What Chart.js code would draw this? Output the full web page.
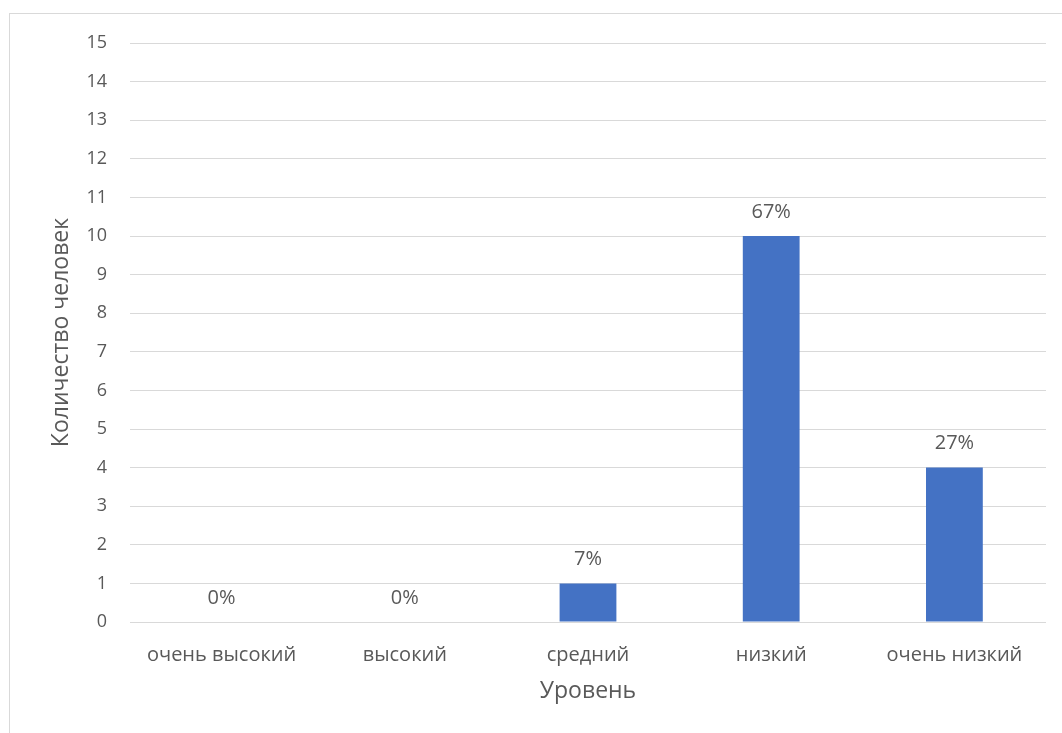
<!DOCTYPE html>
<html lang="ru">
<head>
<meta charset="utf-8">
<title>Уровень</title>
<script src="https://cdn.jsdelivr.net/npm/chart.js@4/dist/chart.umd.min.js"></script>
<style>
    html, body {
        margin: 0;
        padding: 0;
        background: #ffffff;
    }
    .chart-wrap {
        position: relative;
        width: 1062px;
        height: 733px;
        overflow: hidden;
    }
    .chart-frame {
        position: absolute;
        left: 9px;
        top: 13px;
        width: 1100px;
        height: 800px;
        border: 1px solid #d9d9d9;
        box-sizing: border-box;
        pointer-events: none;
    }
</style>
</head>
<body>
<div class="chart-wrap">
    <div class="chart-frame"></div>
    <canvas id="levels"></canvas>
</div>
<script>
// данные диаграммы
const levels = ['очень высокий', 'высокий', 'средний', 'низкий', 'очень низкий'];
const people = [0, 0, 1, 10, 4];
const yMin = 0;
const yMax = 15;
const yStep = 1;

const textColor = '#595959';
const gridColor = '#d9d9d9';
const barColor = '#4472c4';
const fontFamily = '"Open Sans", "Noto Sans", sans-serif';

const total = people.reduce((s, v) => s + v, 0);

// подписи процентов над столбцами
const percentLabels = {
    id: 'percentLabels',
    afterDatasetsDraw(chart) {
        const ctx = chart.ctx;
        const meta = chart.getDatasetMeta(0);
        ctx.save();
        ctx.fillStyle = textColor;
        ctx.font = `20px ${fontFamily}`;
        ctx.textAlign = 'center';
        ctx.textBaseline = 'middle';
        meta.data.forEach((bar, i) => {
            const pct = Math.round(people[i] / total * 100) + '%';
            ctx.fillText(pct, bar.x, bar.y - 24);
        });
        ctx.restore();
    }
};

new Chart(document.getElementById('levels').getContext('2d'), {
    type: 'bar',
    data: {
        labels: levels,
        datasets: [{
            data: people,
            backgroundColor: barColor,
            categoryPercentage: 1,
            barPercentage: 0.31,
        }],
    },
    options: {
        responsive: true,
        maintainAspectRatio: false,
        animation: false,
        layout: {
            padding: { top: 43, right: 16, bottom: 0, left: 0 },
        },
        plugins: {
            legend: { display: false },
            tooltip: { enabled: false },
        },
        scales: {
            x: {
                grid: { display: false, drawTicks: false },
                border: { display: false },
                ticks: {
                    color: textColor,
                    font: { family: fontFamily, size: 20 },
                    padding: 21,
                    maxRotation: 0,
                },
                title: {
                    display: true,
                    text: 'Уровень',
                    color: textColor,
                    font: { family: fontFamily, size: 23 },
                    padding: { top: 0, bottom: 28 },
                },
                afterFit(scale) {
                    scale.height = 111;
                },
            },
            y: {
                min: yMin,
                max: yMax,
                grid: { color: gridColor, lineWidth: 1, drawTicks: false },
                border: { display: false },
                ticks: {
                    stepSize: yStep,
                    color: textColor,
                    font: { family: fontFamily, size: 18 },
                    padding: 23,
                },
                title: {
                    display: true,
                    text: 'Количество человек',
                    color: textColor,
                    font: { family: fontFamily, size: 23 },
                    padding: { top: 48, bottom: 0 },
                },
                afterFit(scale) {
                    scale.width = 130;
                },
            },
        },
    },
    plugins: [percentLabels],
});
</script>
</body>
</html>
